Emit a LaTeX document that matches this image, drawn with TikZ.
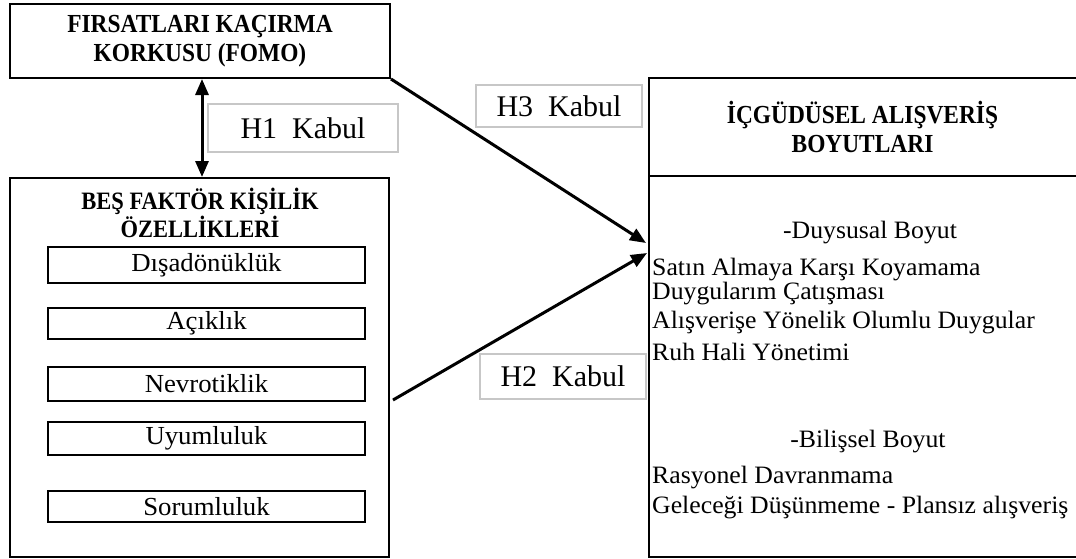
\documentclass[tikz,border=0pt]{standalone}
\usepackage{fontspec}
\setmainfont{Liberation Serif}
\newfontfamily\bodyfont{Liberation Serif}[FakeStretch=1.03]
\newfontfamily\titlefont{Liberation Serif}[FakeStretch=0.9]
\usetikzlibrary{arrows.meta,calc}
\begin{document}
\begin{tikzpicture}[x=1pt,y=-1pt,
  box/.style={draw,line width=2pt,inner sep=0pt},
  title/.style={font=\titlefont\fontsize{26}{29}\selectfont\bfseries,align=center,inner sep=0pt},
  trait/.style={box,minimum width=317pt,font=\bodyfont\fontsize{26}{30}\selectfont},
  hyp/.style={draw=black!22,line width=1.6pt,inner sep=0pt,font=\fontsize{30}{34}\selectfont},
  item/.style={anchor=base west,inner sep=0pt,font=\bodyfont\fontsize{25}{30}\selectfont},
  head/.style={anchor=base,inner sep=0pt,font=\bodyfont\fontsize{25}{30}\selectfont},
  link/.style={line width=3pt,-{Triangle[length=16pt,width=13pt]}},
  twoway/.style={line width=3pt,{Triangle[length=16pt,width=13pt]}-{Triangle[length=16pt,width=13pt]}}]
\useasboundingbox (0,0) rectangle (1076,558);

% FOMO box
\node[box,title,minimum width=380pt,minimum height=74pt] (fomo) at (200,41)
  {FIRSATLARI KAÇIRMA\\KORKUSU (FOMO)};

% Big Five box with its five traits
\node[box,minimum width=379pt,minimum height=379pt] (bes) at (199.5,367.5) {};
\node[title,font=\titlefont\fontsize{25}{28}\selectfont\bfseries] (bestitle) at (200,213)
  {BEŞ FAKTÖR KİŞİLİK\\ÖZELLİKLERİ};
\node[trait,minimum height=36pt] (t1) at (206.5,265) {Dışadönüklük};
\node[trait,minimum height=31pt] (t2b) at (206.5,323.5) {Açıklık};
\node[trait,minimum height=34pt] (t3b) at (206.5,384) {Nevrotiklik};
\node[trait,minimum height=33pt] (t4) at (206.5,438.5) {Uyumluluk};
\node[trait,minimum height=31pt] (t5) at (206.5,506.5) {Sorumluluk};

% Impulse buying dimensions box
\node[box,minimum width=429pt,minimum height=479pt] (ics) at (863.5,317.5) {};
\draw[line width=2pt] ($(ics.north west)+(0,99)$) -- ($(ics.north east)+(0,99)$);
\node[title] (icstitle) at (862.5,127) {İÇGÜDÜSEL ALIŞVERİŞ\\BOYUTLARI};

\node[head] (duy) at (870,238) {-Duysusal Boyut};
\node[item] (d1) at (652,275) {Satın Almaya Karşı Koyamama};
\node[item] (d2) at (652,299) {Duygularım Çatışması};
\node[item] (d3) at (652,328) {Alışverişe Yönelik Olumlu Duygular};
\node[item] (d4) at (652,360) {Ruh Hali Yönetimi};
\node[head] (bil) at (868,447) {-Bilişsel Boyut};
\node[item] (b1) at (652,483) {Rasyonel Davranmama};
\node[item] (b2) at (652,513) {Geleceği Düşünmeme - Plansız alışveriş};

% Hypothesis labels
\node[hyp,minimum width=190pt,minimum height=48pt] (h1) at (303,128) {H1~~Kabul};
\node[hyp,minimum width=166pt,minimum height=42pt] (h3) at (559,106) {H3~~Kabul};
\node[hyp,minimum width=166pt,minimum height=45pt] (h2) at (563,376.5) {H2~~Kabul};

% Connectors
\coordinate (tip3) at (646,243);
\coordinate (tip2) at (647,253);
\coordinate (h2start) at (393,400);
\draw[twoway] ([xshift=2pt]fomo.south) -- ([xshift=2.5pt]bes.north);
\draw[link] (fomo.south east) -- (tip3);
\draw[link] (h2start) -- (tip2);
\end{tikzpicture}
\end{document}
